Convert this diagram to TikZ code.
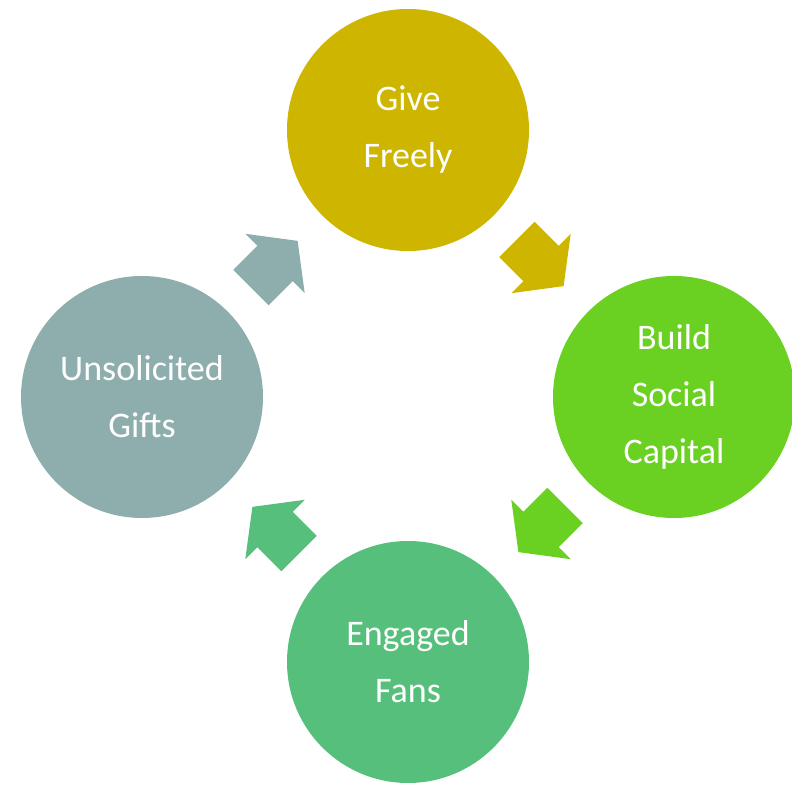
\documentclass[tikz,border=0pt]{standalone}
\usepackage{fontspec}
\setmainfont{Carlito}
\usepackage{tikz}
\usetikzlibrary{calc}

\definecolor{giveyellow}{RGB}{205,181,0}
\definecolor{buildgreen}{RGB}{106,208,34}
\definecolor{fansgreen}{RGB}{86,191,123}
\definecolor{giftsgrey}{RGB}{142,174,174}

\begin{document}
\begin{tikzpicture}[x=1pt, y=1pt]
        % Define styles
        \tikzset{
            stage/.style={circle, fill=#1, minimum size=242pt, inner sep=0pt, text=white, align=center, font=\fontsize{36}{57}\selectfont},
            cyclearrow/.pic={\fill[pic actions] (-34,-25) -- (0,-25) -- (0,-42) -- (32,0) -- (0,42) -- (0,25) -- (-34,25) -- cycle;}
        }
        \useasboundingbox (0,0) rectangle (792,784);

        % Create nodes
        \node [stage=giveyellow] (give) at (408,654) {Give\\Freely};
        \node [stage=buildgreen] (build) at (674,387) {Build\\Social\\Capital};
        \node [stage=fansgreen] (fans) at (408,122) {Engaged\\Fans};
        \node [stage=giftsgrey] (gifts) at (142,387) {Unsolicited\\Gifts};

        % Create arrows
        \pic [fill=giveyellow, rotate=-45] at ($(give)!0.5!(build)$) {cyclearrow};
        \pic [fill=buildgreen, rotate=-135] at ($(build)!0.5!(fans)$) {cyclearrow};
        \pic [fill=fansgreen, rotate=135] at ($(fans)!0.5!(gifts)$) {cyclearrow};
        \pic [fill=giftsgrey, rotate=45] at ($(gifts)!0.5!(give)$) {cyclearrow};
    \end{tikzpicture}
\end{document}
